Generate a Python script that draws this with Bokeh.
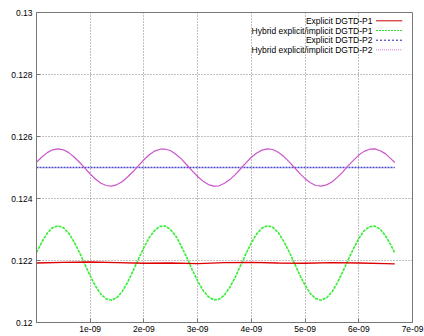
from bokeh.plotting import figure
from bokeh.models import Range1d, FixedTicker, CustomJSTickFormatter, Label
from bokeh.embed import file_html
from bokeh.resources import INLINE

# time in units of 1e-9 s
t_ns = [0.0, 0.1, 0.2, 0.3, 0.4, 0.5, 0.6, 0.7, 0.8, 0.9,
        1.0, 1.1, 1.2, 1.3, 1.4, 1.5, 1.6, 1.7, 1.8, 1.9,
        2.0, 2.1, 2.2, 2.3, 2.4, 2.5, 2.6, 2.7, 2.8, 2.9,
        3.0, 3.1, 3.2, 3.3, 3.4, 3.5, 3.6, 3.7, 3.8, 3.9,
        4.0, 4.1, 4.2, 4.3, 4.4, 4.5, 4.6, 4.7, 4.8, 4.9,
        5.0, 5.1, 5.2, 5.3, 5.4, 5.5, 5.6, 5.7, 5.8, 5.9,
        6.0, 6.1, 6.2, 6.3, 6.4, 6.5, 6.6, 6.67]

hybrid_p1 = [0.12226, 0.12260, 0.12288, 0.12306, 0.12312, 0.12306, 0.12288, 0.12260, 0.12226, 0.12188,
             0.12150, 0.12117, 0.12091, 0.12076, 0.12072, 0.12081, 0.12101, 0.12131, 0.12167, 0.12205,
             0.12242, 0.12274, 0.12297, 0.12310, 0.12311, 0.12299, 0.12277, 0.12245, 0.12209, 0.12170,
             0.12134, 0.12104, 0.12083, 0.12073, 0.12075, 0.12089, 0.12114, 0.12146, 0.12184, 0.12222,
             0.12257, 0.12286, 0.12305, 0.12312, 0.12307, 0.12290, 0.12263, 0.12229, 0.12192, 0.12154,
             0.12120, 0.12093, 0.12077, 0.12072, 0.12080, 0.12098, 0.12128, 0.12163, 0.12201, 0.12238,
             0.12271, 0.12296, 0.12309, 0.12311, 0.12301, 0.12279, 0.12249, 0.12224]

hybrid_p2 = [0.12517, 0.12534, 0.12548, 0.12557, 0.12560, 0.12557, 0.12548, 0.12534, 0.12517, 0.12498,
             0.12479, 0.12462, 0.12449, 0.12442, 0.12440, 0.12445, 0.12455, 0.12470, 0.12487, 0.12506,
             0.12525, 0.12541, 0.12553, 0.12559, 0.12559, 0.12554, 0.12542, 0.12527, 0.12508, 0.12489,
             0.12471, 0.12456, 0.12445, 0.12440, 0.12441, 0.12449, 0.12461, 0.12477, 0.12496, 0.12515,
             0.12533, 0.12547, 0.12556, 0.12560, 0.12558, 0.12549, 0.12536, 0.12519, 0.12500, 0.12481,
             0.12464, 0.12451, 0.12442, 0.12440, 0.12444, 0.12453, 0.12468, 0.12485, 0.12505, 0.12523,
             0.12540, 0.12552, 0.12559, 0.12560, 0.12554, 0.12544, 0.12528, 0.12516]

t_exp = [0.0, 0.5, 1.0, 1.5, 2.0, 2.5, 3.0, 3.5, 4.0, 4.5, 5.0, 5.5, 6.0, 6.5, 6.67]
explicit_p1 = [0.12192, 0.12194, 0.12195, 0.12193, 0.12191, 0.12192, 0.12190, 0.12193,
               0.12194, 0.12192, 0.12191, 0.12193, 0.12192, 0.12190, 0.12189]
explicit_p2 = [0.12500, 0.12500, 0.12500, 0.12500, 0.12500, 0.12500, 0.12500, 0.12500,
               0.12500, 0.12500, 0.12500, 0.12500, 0.12500, 0.12500, 0.12500]

x_ticks = [1, 2, 3, 4, 5, 6, 7]
y_ticks = [0.12, 0.122, 0.124, 0.126, 0.128, 0.13]

series_names = ["Explicit DGTD-P1", "Hybrid explicit/implicit DGTD-P1",
                "Explicit DGTD-P2", "Hybrid explicit/implicit DGTD-P2"]

FONT = "Liberation Sans"
FS = "8.5px"

p = figure(width=424, height=336, output_backend="svg", toolbar_location=None,
           x_range=Range1d(0, 7), y_range=Range1d(0.12, 0.13),
           min_border_left=36, min_border_right=12, min_border_top=12, min_border_bottom=14)
p.outline_line_color = "#777777"
p.outline_line_width = 1
p.background_fill_color = "white"
p.border_fill_color = "white"

for ax in (p.xaxis[0], p.yaxis[0]):
    ax.axis_line_color = "#777777"
    ax.major_tick_line_color = "#777777"
    ax.major_tick_in = 4
    ax.major_tick_out = 0
    ax.minor_tick_line_color = None
    ax.major_label_text_font = FONT
    ax.major_label_text_font_size = FS
    ax.major_label_text_color = "black"

p.xaxis.ticker = FixedTicker(ticks=x_ticks)
p.yaxis.ticker = FixedTicker(ticks=y_ticks)
p.xaxis.formatter = CustomJSTickFormatter(code="return tick.toFixed(0) + 'e-09';")
p.yaxis.formatter = CustomJSTickFormatter(code="return parseFloat(tick.toFixed(3)).toString();")
p.xaxis.major_label_standoff = 3
p.yaxis.major_label_standoff = 4

p.grid.grid_line_color = "#808080"
p.grid.grid_line_dash = "1 2"
p.grid.grid_line_width = 1

curve_styles = [
    dict(color="#dd0000", line_width=1.4, line_dash="solid"),
    dict(color="#33ee33", line_width=1.6, line_dash="3 1"),
    dict(color="#4444cc", line_width=1.6, line_dash="2 1"),
    dict(color="#cc55cc", line_width=1.2, line_dash="solid"),
]
key_styles = [
    dict(color="#cc0000", line_width=1.0, line_dash="solid"),
    dict(color="#33dd33", line_width=1.0, line_dash="2 1"),
    dict(color="#2222aa", line_width=1.0, line_dash="2 2"),
    dict(color="#dd77dd", line_width=1.0, line_dash="1 1"),
]

p.line(t_exp, explicit_p2, **curve_styles[2])
p.line(t_ns, hybrid_p2, **curve_styles[3])
p.line(t_ns, hybrid_p1, **curve_styles[1])
p.line(t_exp, explicit_p1, **curve_styles[0])

# legend (gnuplot style: right-aligned text, sample to the right)
x_text = 6.255
x_s0, x_s1 = 6.32, 6.81
rows_y = [0.129732, 0.129419, 0.129106, 0.128797]
for name, st, yy in zip(series_names, key_styles, rows_y):
    p.add_layout(Label(x=x_text, y=yy, text=name, text_align="right", text_baseline="middle",
                       text_font=FONT, text_font_size=FS, text_color="black"))
    p.segment(x0=[x_s0], y0=[yy], x1=[x_s1], y1=[yy], **st)

open("out.html", "w").write(file_html(p, INLINE))
